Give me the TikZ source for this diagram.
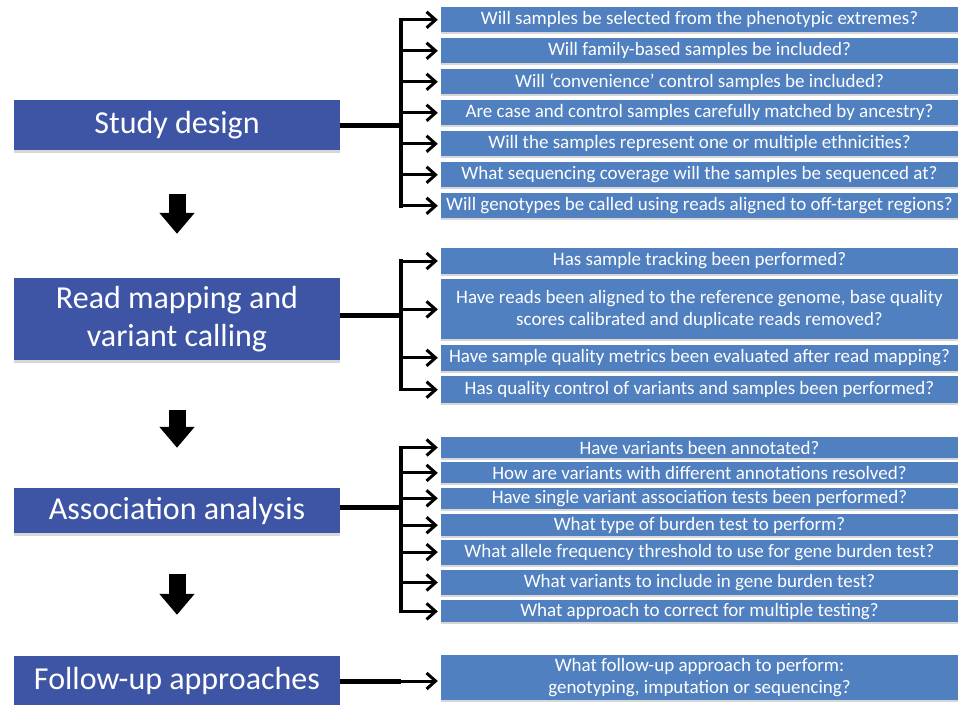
\documentclass[tikz,border=0pt]{standalone}
\usepackage{fontspec}
\setmainfont{Carlito}
\usetikzlibrary{arrows.meta, positioning, shadows}
\definecolor{stageblue}{RGB}{62,85,165}
\definecolor{askblue}{RGB}{80,128,192}
\tikzstyle{stage}=[rectangle, fill=stageblue, text=white, minimum width=326pt, inner sep=0pt, align=center, font=\fontsize{32}{38}\selectfont, drop shadow={shadow xshift=0pt, shadow yshift=-2.5pt, fill=black!35, opacity=0.45}]
\tikzstyle{question}=[rectangle, fill=askblue, text=white, minimum width=517pt, inner sep=0pt, align=center, font=\fontsize{19}{22.5}\selectfont, drop shadow={shadow xshift=0pt, shadow yshift=-2pt, fill=black!35, opacity=0.45}]
\tikzstyle{trunk}=[line width=5pt]
\tikzstyle{bracket}=[line width=3.5pt, line cap=rect]
\tikzstyle{ask}=[line width=3pt, -{Straight Barb[length=9pt, width=16pt, line width=3pt]}, shorten >=3pt]
\tikzstyle{flow}=[line width=17pt, -{Triangle[length=21pt, width=34pt]}]

\begin{document}
\begin{tikzpicture}[x=1pt, y=-1pt]
  \useasboundingbox (0,0) rectangle (960,704);
  \coordinate (fork) at (401,0);

  % stages
  \node[stage, minimum height=50pt] (study) at (177,125) {Study design};
  \node[stage, minimum height=82pt] (mapping) at (177,319) {Read mapping and\\variant calling};
  \node[stage, minimum height=45pt] (assoc) at (177,510.5) {Association analysis};
  \node[stage, minimum height=50pt] (followup) at (177,681) {Follow-up approaches};

  % study design questions
  \node[question, minimum height=25pt] (q1) at (699.5,19.8) {Will samples be selected from the phenotypic extremes?};
  \node[question, minimum height=25pt] (q2) [below=5.6pt of q1] {Will family-based samples be included?};
  \node[question, minimum height=25pt] (q3) [below=5.6pt of q2] {Will ‘convenience’ control samples be included?};
  \node[question, minimum height=25pt] (q4) [below=5.6pt of q3] {Are case and control samples carefully matched by ancestry?};
  \node[question, minimum height=25pt] (q5) [below=5.6pt of q4] {Will the samples represent one or multiple ethnicities?};
  \node[question, minimum height=25pt] (q6) [below=5.6pt of q5] {What sequencing coverage will the samples be sequenced at?};
  \node[question, minimum height=25pt] (q7) [below=5.6pt of q6] {Will genotypes be called using reads aligned to off-target regions?};

  % read mapping questions
  \node[question, minimum height=26pt] (m1) at (699.5,261) {Has sample tracking been performed?};
  \node[question, minimum height=60pt] (m2) [below=5pt of m1] {Have reads been aligned to the reference genome, base quality\\scores calibrated and duplicate reads removed?};
  \node[question, minimum height=26pt] (m3) [below=5pt of m2] {Have sample quality metrics been evaluated after read mapping?};
  \node[question, minimum height=27pt] (m4) [below=5pt of m3] {Has quality control of variants and samples been performed?};

  % association questions
  \node[question, minimum height=21pt] (a1) at (699.5,447.5) {Have variants been annotated?};
  \node[question, minimum height=21pt] (a2) [below=4pt of a1] {How are variants with different annotations resolved?};
  \node[question, minimum height=21pt] (a3) [below=4pt of a2] {Have single variant association tests been performed?};
  \node[question, minimum height=22pt] (a4) [below=5pt of a3] {What type of burden test to perform?};
  \node[question, minimum height=25pt] (a5) [below=3pt of a4] {What allele frequency threshold to use for gene burden test?};
  \node[question, minimum height=25pt] (a6) [below=5pt of a5] {What variants to include in gene burden test?};
  \node[question, minimum height=22pt] (a7) [below=5pt of a6] {What approach to correct for multiple testing?};

  % follow-up question
  \node[question, minimum height=45pt] (f1) at (699.5,677.5) {What follow-up approach to perform:\\genotyping, imputation or sequencing?};

  % stage to stage
  \draw[flow, shorten <=44pt, shorten >=44pt] (study.south) -- (mapping.north);
  \draw[flow, shorten <=50pt, shorten >=40pt] (mapping.south) -- (assoc.north);
  \draw[flow, shorten <=41pt, shorten >=41pt] (assoc.south) -- (followup.north);

  % stage to questions
  \draw[trunk] (study.east) -- (study.east -| fork);
  \draw[bracket] (q1.west -| fork) -- (q7.west -| fork);
  \foreach \i in {1,...,7} \draw[ask] (q\i.west -| fork) -- (q\i.west);

  \draw[trunk] ([yshift=4pt]mapping.east) -- ([yshift=4pt]mapping.east -| fork);
  \draw[bracket] (m1.west -| fork) -- (m4.west -| fork);
  \foreach \i in {1,...,4} \draw[ask] (m\i.west -| fork) -- (m\i.west);

  \draw[trunk] ([yshift=3pt]assoc.east) -- ([yshift=3pt]assoc.east -| fork);
  \draw[bracket] (a1.west -| fork) -- (a7.west -| fork);
  \foreach \i in {1,...,7} \draw[ask] (a\i.west -| fork) -- (a\i.west);

  \draw[trunk] (followup.east) -- (followup.east -| fork);
  \draw[ask] (followup.east -| fork) -- (followup.east -| f1.west);
\end{tikzpicture}
\end{document}
